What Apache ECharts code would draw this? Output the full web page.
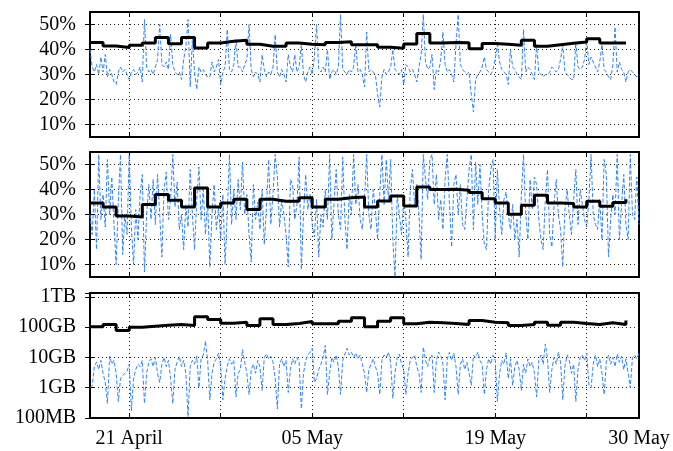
<!DOCTYPE html>
<html>
<head>
<meta charset="utf-8">
<script src="https://cdn.jsdelivr.net/npm/echarts@6/dist/echarts.min.js"></script>
<style>
  html, body { margin: 0; padding: 0; background: #fff; }
  #chart { width: 673px; height: 451px; }
</style>
</head>
<body>
<div id="chart"></div>
<script>
// x axis is in days since 18 April, samples every 4 hours
const samplesPerDay = 6;
const gridDays = [3, 10, 17, 24, 31, 38];
const labelDays = [3, 17, 31, 42];
const labelNames = ["21 April", "05 May", "19 May", "30 May"];
const pctTicks = [10, 20, 30, 40, 50];
const sizeLabels = ["100MB", "1GB", "10GB", "100GB", "1TB"]; // 10^-1 .. 10^3 GB

// panel 1 (%)
const panel1Daily = [42.8, 41.4, 40.8, 41.7, 42.6, 44.8, 42.3, 44.8, 40.6, 42.6, 43.3, 43.7, 42.1, 41.3, 41.3, 42.6, 42.1, 41.9, 42.8, 43.1, 41.9, 41.9, 40.9, 40.5, 42.2, 46.4, 42.6, 42.8, 42.7, 40.3, 42.4, 42.1, 41.7, 43.7, 41.3, 41.9, 42.5, 43.0, 44.3, 42.6, 42.6, 42.6];
const panel1Samples = [
  40, 33, 31, 34, 30, 37, 31, 38, 29, 32, 30, 27, 26, 31, 33, 31, 32, 30, 28, 31,
  32, 30, 31, 33, 27, 52, 33, 31, 32, 30, 33, 36, 50, 34, 33, 35, 32, 46, 34, 31,
  30, 31, 28, 36, 41, 52, 25, 44, 31, 24, 33, 31, 32, 30, 29, 29, 35, 31, 33, 36,
  26, 31, 33, 48, 32, 31, 34, 44, 33,
  33, 31, 34, 36, 50, 32, 29, 31, 30, 27, 38, 32, 29, 31, 30, 33, 46, 31, 29, 32,
  30, 27, 38, 33, 31, 38, 31, 33, 42, 30, 27, 31, 33, 30, 37, 50, 32, 31, 33, 31,
  40, 28, 31, 32, 30, 33, 54, 32, 31, 30, 32, 31, 33, 42, 31, 32, 30, 25, 47, 31,
  32, 31, 30, 22, 17, 29, 32, 30, 31, 33, 40, 32, 31, 30, 32, 26, 34, 33, 31, 32,
  30, 27, 33, 38, 54, 35, 32, 33, 38, 24, 32, 31,
  36, 47, 34, 31, 32, 30, 27, 42, 54, 34, 32, 31, 30, 31, 22, 15, 28, 30, 31, 33,
  37, 32, 31, 30, 32, 36, 42, 35, 32, 31, 30, 26, 40, 33, 32, 30, 29, 28, 48, 31,
  33, 32, 30, 28, 42, 31, 30, 29, 30, 30, 31, 33, 32, 31, 32, 36, 42, 31, 30, 29,
  28, 28, 43, 33, 32, 33, 36, 44, 34, 37, 35, 33, 31, 35, 42, 32, 31, 29, 28, 34,
  49, 31, 35, 32, 31, 27, 31, 32, 31, 30, 29, 30
];

// panel 2 (%)
const panel2Daily = [34.6, 33.0, 29.4, 29.0, 34.0, 38.0, 35.7, 33.0, 40.6, 33.0, 34.6, 36.1, 32.0, 36.1, 35.3, 35.3, 36.7, 33.0, 36.1, 36.7, 37.0, 33.0, 35.4, 37.4, 33.4, 41.0, 40.0, 40.1, 39.7, 38.8, 36.3, 34.6, 30.1, 33.7, 37.7, 34.6, 34.4, 33.0, 35.3, 33.3, 34.8, 36.1];
const panel2Samples = [
  30, 22, 40, 16, 54, 28, 38, 25, 52, 30, 45, 26, 10, 35, 54, 14, 30, 22, 54, 25,
  10, 32, 20, 38, 46, 7, 30, 42, 28, 44, 26, 46, 30, 13, 40, 47, 28, 36, 54, 33,
  43, 24, 30, 16, 34, 25, 48, 30, 16, 36, 49, 28, 40, 22, 35, 9, 30, 42, 24, 33,
  20, 38, 10, 30, 54, 26, 40, 28, 44,
  32, 51, 30, 38, 22, 11, 42, 28, 35, 24, 40, 18, 33, 52, 26, 38, 54, 45, 25, 36,
  30, 22, 9, 44, 42, 28, 34, 53, 8, 30, 46, 32, 38, 26, 21, 36, 13, 30, 25, 40,
  28, 54, 20, 34, 48, 30, 24, 53, 28, 16, 38, 30, 54, 34, 42, 28, 24, 36, 54, 30,
  24, 40, 32, 20, 38, 54, 34, 52, 36, 52, 20, 5, 38, 30, 22, 36, 28, 13, 40, 48,
  34, 42, 30, 12, 54, 44, 36, 52, 54, 34, 46, 28,
  36, 24, 44, 54, 34, 17, 42, 46, 30, 42, 26, 24, 36, 48, 54, 24, 51, 34, 50, 30,
  18, 16, 40, 48, 52, 20, 48, 32, 22, 36, 39, 30, 24, 34, 20, 28, 13, 38, 54, 30,
  20, 44, 32, 45, 42, 28, 20, 16, 36, 48, 22, 17, 34, 44, 30, 24, 9, 32, 40, 30,
  22, 36, 48, 26, 40, 34, 28, 25, 36, 54, 30, 26, 24, 36, 20, 52, 46, 13, 28, 38,
  30, 54, 20, 34, 46, 26, 20, 54, 30, 28, 45, 26
];

// panel 3 (GB, log scale)
const panel3Daily = [103, 123, 78, 100, 108, 116, 123, 113, 221, 180, 136, 146, 114, 190, 123, 133, 154, 129, 129, 158, 204, 103, 158, 204, 129, 146, 140, 133, 123, 166, 146, 140, 113, 123, 146, 116, 146, 133, 123, 140, 123, 166];
const panel3Samples = [
  1.0, 1.2, 5, 7, 4, 8, 3, 1.5, 0.3, 11, 6, 8, 3, 0.35, 2, 2.5, 3, 3.5, 6, 0.17,
  2, 4, 6, 5, 8, 0.3, 3, 7, 9, 5, 10, 3, 1.5, 6, 10, 5, 8, 2, 0.3, 4,
  7, 11, 5, 8, 3, 0.11, 5, 8, 6, 11, 1, 9, 12, 35, 8, 0.4, 3, 7, 9, 14,
  5, 0.4, 2, 5, 9, 6, 8, 0.5, 3,
  4, 18, 7, 3, 0.6, 4, 6, 3, 8, 5, 0.8, 10, 13, 9, 11, 7, 2, 0.2, 6, 9,
  5, 8, 0.7, 4, 9, 6, 10, 7, 0.2, 3, 8, 12, 15, 20, 1.5, 2, 4, 6, 10, 25,
  0.6, 3, 10, 7, 12, 5, 0.6, 8, 13, 20, 12, 15, 10, 14, 9, 12, 6, 3, 0.7, 4,
  6, 9, 5, 3, 0.6, 8, 12, 10, 15, 7, 0.45, 3, 10, 13, 6, 4, 0.6, 3, 8, 10,
  12, 5, 3, 0.7, 22, 8, 5, 10, 12, 0.7, 8, 15,
  12, 6, 0.4, 9, 15, 8, 14, 5, 0.6, 6, 9, 4, 7, 3, 1.2, 12, 10, 15, 8, 6,
  0.6, 4, 9, 6, 12, 8, 0.35, 3, 8, 6, 14, 2, 9, 1.2, 5, 8, 4, 0.8, 6, 3,
  9, 5, 7, 3, 0.5, 8, 12, 6, 28, 9, 0.7, 4, 10, 6, 15, 7, 0.4, 5, 12, 8,
  3, 6, 0.35, 4, 10, 12, 8, 14, 1.2, 1.0, 6, 12, 5, 9, 3, 0.6, 7, 12, 6, 10,
  5, 13, 7, 11, 4, 9, 3, 1.0, 10, 12, 9, 14
];

const font = { fontFamily: "Liberation Serif", fontSize: 20, color: "#000" };
const dotted = { color: "#222", width: 1, type: [1, 3] };
const grids = [
  { left: 90, right: 34, top: 12, height: 125, show: true, borderColor: "#000", borderWidth: 2 },
  { left: 90, right: 34, top: 152, height: 125, show: true, borderColor: "#000", borderWidth: 2 },
  { left: 90, right: 34, top: 293, height: 125, show: true, borderColor: "#000", borderWidth: 2 }
];

const xAxes = [];
const yAxes = [];
[0, 1, 2].forEach((g) => {
  xAxes.push({
    gridIndex: g, type: "value", min: 0, max: 42, position: "bottom",
    axisLine: { show: false },
    axisTick: { inside: true, length: 5, customValues: gridDays, lineStyle: { color: "#000" } },
    axisLabel: g === 2
      ? { ...font, margin: 11, customValues: labelDays, formatter: (v) => labelNames[labelDays.indexOf(v)] || "" }
      : { show: false },
    splitLine: { show: true, lineStyle: dotted }
  });
});
[0, 1, 2].forEach((g) => {
  xAxes.push({
    gridIndex: g, type: "value", min: 0, max: 42, position: "top",
    axisLine: { show: false },
    axisTick: { inside: true, length: 5, customValues: gridDays, lineStyle: { color: "#000" } },
    axisLabel: { show: false },
    splitLine: { show: false }
  });
});

function logLabel(v) {
  const e = Math.round(Math.log10(v));
  if (Math.abs(Math.log10(v) - e) > 0.01) return "";
  return sizeLabels[e + 1] || "";
}

function yAxis(g, right) {
  const base = {
    gridIndex: g, position: right ? "right" : "left",
    axisLine: { show: false },
    splitLine: { show: !right, lineStyle: dotted }
  };
  if (g < 2) {
    return {
      ...base, type: "value", min: 5, max: 55,
      axisTick: { inside: true, length: 5, customValues: pctTicks, lineStyle: { color: "#000" } },
      axisLabel: right ? { show: false } : { ...font, margin: 14, customValues: pctTicks, formatter: (v) => v + "%" }
    };
  }
  return {
    ...base, type: "log", logBase: 10, min: 0.1, max: 1350,
    axisTick: { inside: true, length: 5, lineStyle: { color: "#000" } },
    axisLabel: right ? { show: false } : { ...font, margin: 14, formatter: logLabel }
  };
}
[0, 1, 2].forEach((g) => yAxes.push(yAxis(g, false)));
[0, 1, 2].forEach((g) => yAxes.push(yAxis(g, true)));

const toSamples = (vals) => vals.map((v, i) => [i / samplesPerDay, v]);
const toDaily = (vals) => vals.map((v, d) => [d, v]);

const blueLine = (g, vals) => ({
  type: "line", xAxisIndex: g, yAxisIndex: g, data: toSamples(vals),
  showSymbol: false, symbol: "none", z: 2,
  lineStyle: { color: "#2f86f6", width: 1, type: [4, 2] }
});
const blackStep = (g, vals) => ({
  type: "line", xAxisIndex: g, yAxisIndex: g, data: toDaily(vals), step: "end",
  showSymbol: false, symbol: "none", z: 3,
  lineStyle: { color: "#000", width: 3 }
});

const chart = echarts.init(document.getElementById("chart"), null, { renderer: "canvas" });
chart.setOption({
  animation: false,
  backgroundColor: "#fff",
  grid: grids,
  xAxis: xAxes,
  yAxis: yAxes,
  series: [
    blueLine(0, panel1Samples), blackStep(0, panel1Daily),
    blueLine(1, panel2Samples), blackStep(1, panel2Daily),
    blueLine(2, panel3Samples), blackStep(2, panel3Daily)
  ]
});
</script>
</body>
</html>
